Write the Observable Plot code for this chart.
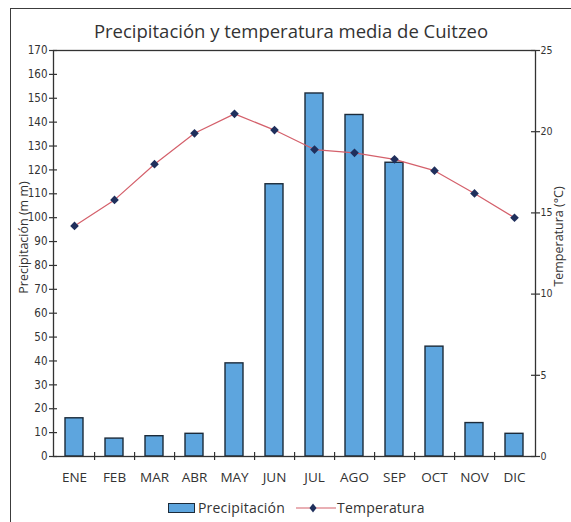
<!DOCTYPE html>
<html>
<head>
<meta charset="utf-8">
<script src="https://cdn.jsdelivr.net/npm/d3@7"></script>
<script src="https://cdn.jsdelivr.net/npm/@observablehq/plot@0.6"></script>
<style>
  html, body { margin: 0; padding: 0; background: #fff; }
  #wrap { position: relative; width: 571px; height: 522px; overflow: hidden; background: #fff; font-family: "Open Sans", "Noto Sans", sans-serif; color: #333; }
  #frame { position: absolute; left: 10px; top: 8px; width: 620px; height: 620px; border: 1.5px solid #3c3c3c; box-sizing: border-box; }
  #title { position: absolute; top: 18px; left: 11px; width: 560px; text-align: center; font-size: 18.5px; color: #333; white-space: nowrap; }
  #chart { position: absolute; left: 0; top: 0; }
  .ytitle { position: absolute; font-size: 12.5px; color: #333; white-space: nowrap; transform-origin: center center; }
  .leg { position: absolute; font-size: 14px; color: #333; white-space: nowrap; line-height: 18px; top: 499px; letter-spacing: 0.2px; }
  #sw { position: absolute; left: 168px; top: 503px; width: 27px; height: 10px; background: #5da5de; border: 1.4px solid #1c2b3a; box-sizing: border-box; }
  #legline { position: absolute; left: 295px; top: 502px; }
</style>
</head>
<body>
<div id="wrap">
  <div id="chart"></div>
  <div id="frame"></div>
  <div id="title">Precipitación y temperatura media de Cuitzeo</div>
  <div class="ytitle" id="ylt">Precipitación (m m)</div>
  <div class="ytitle" id="yrt">Temperatura (°C)</div>
  <div id="sw"></div>
  <div class="leg" style="left:198px">Precipitación</div>
  <svg id="legline" width="42" height="12"><line x1="1" y1="6" x2="41" y2="6" stroke="#d4606b" stroke-width="1.2"/><path d="M18,1.5 L21.5,6 L18,10.5 L14.5,6 Z" fill="#1f2f5c"/></svg>
  <div class="leg" style="left:337px">Temperatura</div>
</div>
<script>
const months = ["ENE","FEB","MAR","ABR","MAY","JUN","JUL","AGO","SEP","OCT","NOV","DIC"];
const precip = [16, 7.5, 8.5, 9.5, 39, 114, 152, 143, 123, 46, 14, 9.5];
const temp = [14.2, 15.8, 18.0, 19.9, 21.1, 20.1, 18.9, 18.7, 18.3, 17.6, 16.2, 14.7];
const precipTicks = d3.range(0, 171, 10);
const tempTicks = [0, 5, 10, 15, 20, 25];
const precipMax = 170, tempMax = 25;
const k = precipMax / tempMax;

const data = months.map((m, i) => ({month: m, precip: precip[i], temp: temp[i]}));

const W = 571, H = 492, mL = 53, mR = 36, mT = 50, mB = 36;
const plotW = W - mL - mR;
const step = plotW / months.length;
const tickFont = "'Liberation Sans Narrow', 'DejaVu Sans Condensed', sans-serif";
const tempTickPos = tempTicks.map(t => t * k);

const chart = Plot.plot({
  width: W, height: H,
  marginLeft: mL, marginRight: mR, marginTop: mT, marginBottom: mB,
  style: {background: "transparent", color: "#333", fontFamily: "'Open Sans', sans-serif"},
  x: {domain: months, paddingInner: 0.54, paddingOuter: 0.27, axis: null},
  y: {domain: [0, precipMax], axis: null},
  marks: [
    Plot.barY(data, {x: "month", y: "precip", fill: "#5da5de", stroke: "#1c2b3a", strokeWidth: 1.4}),
    Plot.frame({stroke: "#333", strokeWidth: 1.3}),
    // left axis
    Plot.axisY({ticks: precipTicks, anchor: "left", tickSize: 4, tickPadding: 2, fontSize: 11.5, fontFamily: tickFont, color: "#333", strokeWidth: 1.2, label: null}),
    Plot.ruleY(precipTicks, {insetRight: plotW - 4, stroke: "#333", strokeWidth: 1.2}),
    // right axis (temperature)
    Plot.axisY({ticks: tempTickPos, anchor: "right", tickSize: 4, tickPadding: 1, tickFormat: d => String(Math.round(d / k)), fontSize: 10.5, fontFamily: tickFont, color: "#333", strokeWidth: 1.2, label: null}),
    Plot.ruleY(tempTickPos, {insetLeft: plotW - 4, stroke: "#333", strokeWidth: 1.2}),
    // x axis
    Plot.axisX({anchor: "bottom", tickSize: 0, tickPadding: 16, fontSize: 13.5, color: "#333", label: null}),
    Plot.ruleX(months.slice(0, -1), {y1: 0, y2: 0, insetTop: -4, insetBottom: -4, dx: step / 2, stroke: "#333", strokeWidth: 1.2}),
    // temperature line
    Plot.lineY(data, {x: "month", y: d => d.temp * k, stroke: "#d4606b", strokeWidth: 1.2}),
    Plot.dot(data, {x: "month", y: d => d.temp * k, symbol: "diamond2", r: 3.9, fill: "#1f2f5c", stroke: "none"})
  ]
});
document.getElementById("chart").appendChild(chart);

function placeTitle(id, cx, cy) {
  const el = document.getElementById(id);
  const w = el.offsetWidth, h = el.offsetHeight;
  el.style.left = (cx - w / 2) + "px";
  el.style.top = (cy - h / 2) + "px";
  el.style.transform = "rotate(-90deg)";
}
placeTitle("ylt", 23, 237);
placeTitle("yrt", 558, 236);
</script>
</body>
</html>
